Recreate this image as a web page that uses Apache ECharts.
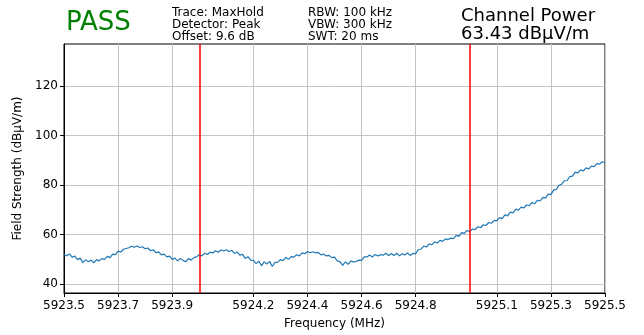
<!DOCTYPE html>
<html>
<head>
<meta charset="utf-8">
<script src="https://cdn.jsdelivr.net/npm/echarts@6/dist/echarts.min.js"></script>
<style>
  html, body { margin: 0; padding: 0; background: #fff; }
  #chart { width: 644px; height: 335px; }
</style>
</head>
<body>
<div id="chart"></div>
<script>
// frequency axis starts at 5923.5 MHz, one reading every 0.01 MHz
const freqStart = 5923.5;
const freqStep = 0.01;

// field strength readings (dBμV/m)
const levels = [
  52.0, 51.4, 52.1, 50.8, 51.2, 49.8, 50.4, 48.6, 49.7, 48.9,
  49.6, 48.5, 49.8, 49.3, 50.2, 49.9, 51.1, 50.6, 52.0, 51.8,
  53.2, 52.9, 54.0, 54.3, 54.6, 55.2, 54.8, 55.3, 54.7, 55.0,
  54.2, 54.5, 53.4, 53.8, 52.6, 52.9, 51.7, 52.0, 50.9, 51.2,
  49.9, 50.4, 49.3, 50.3, 49.5, 48.9, 50.2, 49.6, 50.6, 50.9,
  51.8, 51.3, 52.4, 51.9, 52.8, 52.5, 53.4, 52.8, 53.7, 53.3,
  53.8, 53.1, 53.5, 52.3, 52.9, 51.6, 51.9, 50.3, 51.0, 49.6,
  49.5, 48.2, 49.2, 47.3, 48.9, 48.0, 49.1, 47.0, 48.7, 48.8,
  49.8, 49.4, 50.7, 49.9, 51.0, 50.8, 51.8, 51.3, 52.5, 52.2,
  53.1, 52.6, 53.0, 52.5, 52.7, 51.7, 52.0, 51.3, 51.5, 50.6,
  50.8, 49.3, 49.0, 47.5, 48.9, 47.9, 49.2, 48.9, 49.0, 49.6,
  49.5, 50.9, 50.9, 51.7, 50.8, 51.9, 51.3, 51.8, 51.6, 52.4,
  51.4, 52.3, 51.5, 52.4, 51.3, 52.2, 51.7, 52.5, 51.5, 52.3,
  52.2, 53.9, 54.0, 55.3, 54.9, 56.2, 55.8, 57.0, 56.5, 57.6,
  57.2, 58.2, 57.9, 58.5, 58.3, 59.6, 59.2, 60.7, 60.4, 61.6,
  61.1, 62.2, 61.9, 63.1, 62.7, 63.9, 63.6, 64.8, 64.5, 65.7,
  65.5, 66.8, 66.4, 67.9, 67.5, 69.0, 68.7, 70.2, 69.8, 71.0,
  70.7, 71.9, 71.6, 72.9, 72.4, 73.8, 73.5, 75.0, 74.7, 76.3,
  76.1, 77.9, 78.2, 79.9, 80.3, 81.7, 81.8, 83.4, 83.6, 85.2,
  84.9, 86.1, 85.7, 86.9, 86.5, 87.6, 87.4, 88.6, 88.4, 89.4,
  89.0
];

const xTicks = [5923.5, 5923.7, 5923.9, 5924.2, 5924.4, 5924.6, 5924.8, 5925.1, 5925.3, 5925.5];
const yTicks = [40, 60, 80, 100, 120];
const channelEdges = [5924.0, 5925.0];

const infoLeft = ['Trace: MaxHold', 'Detector: Peak', 'Offset: 9.6 dB'];
const infoMid = ['RBW: 100 kHz', 'VBW: 300 kHz', 'SWT: 20 ms'];
const powerLines = ['Channel Power', '63.43 dBμV/m'];

const points = levels.map((v, i) => [+(freqStart + i * freqStep).toFixed(2), v]);

const font = 'DejaVu Sans';
const chart = echarts.init(document.getElementById('chart'));

function textBlock(x, y, lines, size, lh) {
  return lines.map((t, i) => ({
    type: 'text',
    left: x,
    top: y + i * lh,
    style: { text: t, font: size + 'px "' + font + '"', fill: '#000' }
  }));
}

const option = {
  animation: false,
  backgroundColor: '#fff',
  grid: {
    left: 64, right: 39, top: 44, bottom: 39,
    show: true, borderColor: '#000', borderWidth: 1
  },
  xAxis: {
    type: 'value',
    min: 5923.5,
    max: 5925.5,
    name: 'Frequency (MHz)',
    nameLocation: 'middle',
    nameGap: 25,
    nameTextStyle: { fontFamily: font, fontSize: 12, color: '#000' },
    axisLine: { lineStyle: { color: '#000', width: 1 } },
    axisTick: { customValues: xTicks, length: 4, lineStyle: { color: '#000' } },
    axisLabel: {
      customValues: xTicks,
      fontFamily: font, fontSize: 12, color: '#000', margin: 7,
      formatter: v => v.toFixed(1)
    },
    splitLine: { show: true, lineStyle: { color: '#c4c4c4', width: 1 } }
  },
  yAxis: {
    type: 'value',
    min: 36.3,
    max: 137,
    name: 'Field Strength (dBμV/m)',
    nameLocation: 'middle',
    nameGap: 40,
    nameTextStyle: { fontFamily: font, fontSize: 12, color: '#000' },
    axisLine: { show: true, lineStyle: { color: '#000', width: 1 } },
    axisTick: { show: true, customValues: yTicks, length: 4, lineStyle: { color: '#000' } },
    axisLabel: { customValues: yTicks, fontFamily: font, fontSize: 12, color: '#000', margin: 6 },
    splitLine: { show: true, lineStyle: { color: '#c4c4c4', width: 1 } }
  },
  series: [
    {
      type: 'line',
      data: points,
      showSymbol: false,
      lineStyle: { color: '#1f77b4', width: 1.2 },
      markLine: {
        silent: true,
        symbol: 'none',
        label: { show: false },
        lineStyle: { color: '#ff0000', width: 1.5, type: 'solid' },
        data: channelEdges.map(f => ({ xAxis: f }))
      }
    }
  ],
  graphic: [
    {
      type: 'text', left: 66, top: 10,
      style: { text: 'PASS', font: '26px "' + font + '"', fill: '#008000' }
    },
    ...textBlock(172, 7, infoLeft, 12, 12),
    ...textBlock(308, 7, infoMid, 12, 12),
    ...textBlock(461, 7, powerLines, 18, 18)
  ]
};

chart.setOption(option);
</script>
</body>
</html>
